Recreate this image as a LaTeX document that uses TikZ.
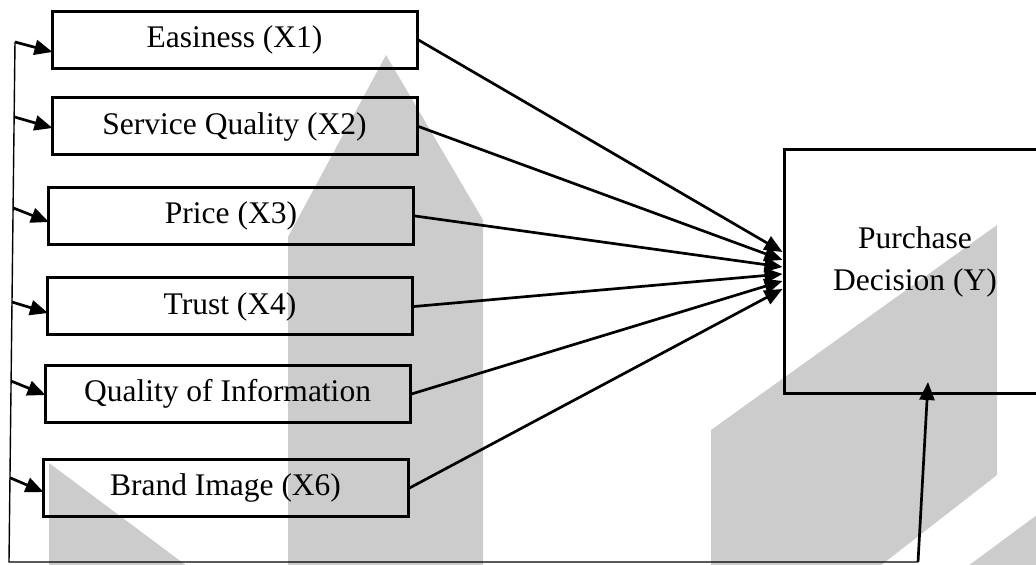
\documentclass[tikz,border=0pt]{standalone}
\usepackage{fontspec}
\setmainfont{Liberation Serif}
\usetikzlibrary{arrows.meta,calc}
\begin{document}
\begin{tikzpicture}[x=0.5pt,y=-0.5pt,
  varbox/.style={draw,line width=1.5pt,minimum width=182.5pt,minimum height=28.5pt,
    inner sep=0pt,font=\fontsize{15.75}{20}\selectfont},
  outbox/.style={draw,line width=1.5pt,minimum width=129pt,minimum height=122pt,inner sep=0pt},
  link/.style={line width=1.35pt,-{Triangle[length=9pt,width=7.5pt]}},
  frameline/.style={line width=0.7pt},
  shade/.style={fill=black!20,draw=none}]
\useasboundingbox (0,0) rectangle (1036,565);
\clip (0,0) rectangle (1036,565);

% background shading
\fill[shade] (288,566) -- (288,237) -- (386,55) -- (483,220) -- (483,566) -- cycle;
\fill[shade] (49,566) -- (49,463) -- (187,566) -- cycle;
\fill[shade] (711,566) -- (711,430) -- (997,225) -- (997,475) -- (880,566) -- cycle;
\fill[shade] (968,566) -- (1037,515) -- (1037,566) -- cycle;

% independent variables
\node[varbox] (x1) at (234.5,40)  {Easiness (X1)};
\node[varbox] (x2) at (234.5,126.5) {Service Quality (X2)};
\node[varbox] (x3) at (231,216)   {Price (X3)};
\node[varbox] (x4) at (230,306.5) {Trust (X4)};
\node[varbox] (x5) at (227.5,394) {Quality of Information};
\node[varbox] (x6) at (225.5,488) {Brand Image (X6)};

% dependent variable
\node[outbox] (y) at (913,272) {};
\node[font=\fontsize{15.75}{21}\selectfont,align=center,inner sep=0pt] (ylab) at (915,262)
  {Purchase\\Decision (Y)};

% paths into the decision box
\draw[link] (x1.east) -- ($(y.west)+(0,-20)$);
\draw[link] (x2.east) -- ($(y.west)+(0,-12)$);
\draw[link] (x3.east) -- ($(y.west)+(0,-5)$);
\draw[link] (x4.east) -- ($(y.west)+(0,2)$);
\draw[link] (x5.east) -- ($(y.west)+(0,9)$);
\draw[link] (x6.east) -- ($(y.west)+(0,17)$);

% feedback frame on the left and bottom
\coordinate (top) at (15,42);
\coordinate (corner) at (9,562);
\coordinate (foot) at (918,562);
\coordinate (tip) at (928,382);
\draw[frameline] (top) -- (corner) -- (foot);
\draw[link] (foot) -- (tip);

\draw[link] (top) -- ($(x1.west)+(2,12)$);
\draw[link] ($(top)!0.144!(corner)$) -- ($(x2.west)+(2,1.5)$);
\draw[link] ($(top)!0.319!(corner)$) -- ($(x3.west)+(2,6)$);
\draw[link] ($(top)!0.5!(corner)$) -- ($(x4.west)+(2,6.5)$);
\draw[link] ($(top)!0.652!(corner)$) -- ($(x5.west)+(2,1)$);
\draw[link] ($(top)!0.838!(corner)$) -- ($(x6.west)+(2,4)$);
\end{tikzpicture}
\end{document}
